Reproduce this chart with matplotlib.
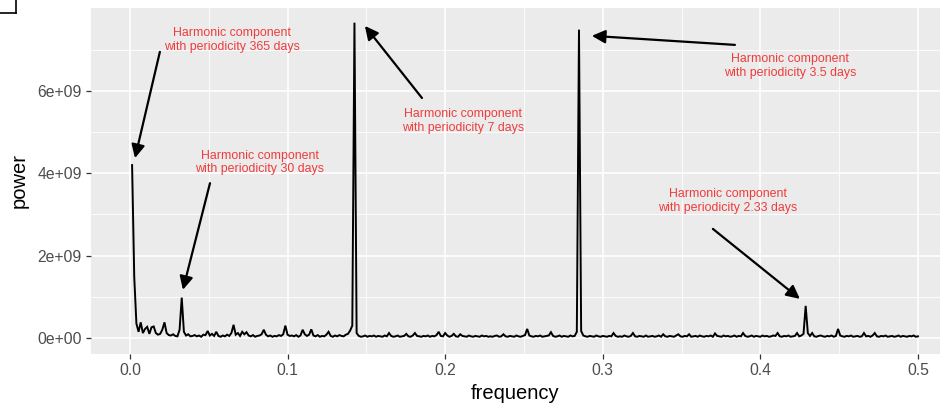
import numpy as np
import matplotlib
matplotlib.use("Agg")
import matplotlib.pyplot as plt
from matplotlib.lines import Line2D

plt.rcParams['font.family'] = ['Liberation Sans', 'DejaVu Sans']

# ---- data (power in units of 1e7) ----
N_DAYS = 730
power_1e7 = [
    420, 148, 35, 15, 38, 12, 22, 27, 10, 26, 28, 12, 8, 10, 20, 38, 12, 7, 6, 9,
    5, 4, 20, 98, 15, 6, 9, 4, 5, 7, 4, 6, 3, 8, 7, 17, 6, 10, 5, 15,
    5, 3, 6, 4, 8, 5, 12, 32, 8, 12, 5, 15, 9, 14, 6, 4, 7, 3, 5, 6,
    9, 20, 8, 4, 6, 3, 5, 4, 7, 5, 9, 30, 8, 5, 6, 4, 7, 3, 6, 20,
    9, 5, 8, 21, 6, 4, 7, 3, 5, 4, 8, 15, 5, 3, 6, 4, 7, 5, 4, 8,
    10, 18, 30, 766, 12, 5, 3, 4, 6, 3, 5, 4, 6, 3, 5, 4, 3, 6, 4, 12,
    5, 3, 4, 6, 3, 4, 5, 10, 4, 3, 6, 12, 5, 4, 3, 5, 4, 6, 3, 5,
    4, 7, 15, 5, 4, 12, 6, 3, 5, 10, 4, 3, 9, 5, 4, 3, 6, 4, 3, 5,
    4, 3, 6, 4, 5, 3, 4, 3, 5, 6, 3, 4, 9, 4, 3, 5, 4, 3, 6, 4,
    3, 5, 7, 22, 6, 4, 3, 5, 4, 6, 3, 4, 5, 6, 14, 5, 3, 4, 6, 3,
    5, 4, 3, 6, 4, 5, 15, 749, 17, 6, 4, 3, 5, 4, 3, 6, 4, 3, 5, 4,
    3, 5, 4, 12, 5, 3, 4, 3, 6, 4, 3, 5, 12, 4, 3, 5, 4, 3, 6, 3,
    4, 5, 3, 4, 6, 3, 9, 4, 3, 5, 4, 3, 6, 9, 4, 3, 5, 4, 9, 3,
    4, 5, 3, 6, 4, 3, 5, 4, 6, 3, 11, 5, 4, 3, 6, 4, 5, 3, 4, 6,
    3, 5, 4, 12, 5, 3, 4, 6, 3, 5, 4, 3, 6, 4, 5, 3, 4, 6, 5, 12,
    4, 3, 5, 4, 6, 3, 4, 5, 12, 4, 6, 10, 78, 12, 5, 12, 4, 3, 5, 6,
    4, 3, 5, 4, 6, 3, 5, 22, 6, 4, 3, 5, 4, 6, 3, 4, 5, 3, 4, 12,
    4, 5, 3, 6, 12, 4, 3, 5, 4, 6, 3, 4, 5, 3, 4, 6, 3, 5, 4, 3,
    5, 4, 6, 3, 4,
]
power = np.array(power_1e7, dtype=float) * 1e7
frequency = np.arange(1, len(power) + 1) / N_DAYS

x_ticks = [0.0, 0.1, 0.2, 0.3, 0.4, 0.5]
x_tick_labels = ["0.0", "0.1", "0.2", "0.3", "0.4", "0.5"]
y_ticks = [0, 2e9, 4e9, 6e9]
y_tick_labels = ["0e+00", "2e+09", "4e+09", "6e+09"]

annotations = [
    ("Harmonic component\nwith periodicity 365 days", (0.0647, 7.24e9), (0.0190, 6.95e9), (0.0032, 4.37e9)),
    ("Harmonic component\nwith periodicity 30 days", (0.0825, 4.27e9), (0.0508, 3.76e9), (0.0336, 1.17e9)),
    ("Harmonic component\nwith periodicity 7 days", (0.2113, 5.27e9), (0.1853, 5.83e9), (0.1491, 7.58e9)),
    ("Harmonic component\nwith periodicity 3.5 days", (0.4188, 6.61e9), (0.3839, 7.12e9), (0.2931, 7.34e9)),
    ("Harmonic component\nwith periodicity 2.33 days", (0.3794, 3.33e9), (0.3699, 2.65e9), (0.4251, 0.95e9)),
]

# ---- figure ----
fig = plt.figure(figsize=(9.52, 4.12), dpi=100)
ax = fig.add_axes([91 / 952, (412 - 354) / 412, (940 - 91) / 952, (354 - 8) / 412])
ax.set_facecolor("#EBEBEB")

ax.set_xlim(-0.0247, 0.514)
ax.set_ylim(-0.389e9, 8.016e9)

ax.set_xticks(x_ticks)
ax.set_xticklabels(x_tick_labels)
ax.set_yticks(y_ticks)
ax.set_yticklabels(y_tick_labels)
ax.set_xticks([0.05, 0.15, 0.25, 0.35, 0.45], minor=True)
ax.set_yticks([1e9, 3e9, 5e9, 7e9], minor=True)

ax.grid(which="major", color="white", linewidth=1.2)
ax.grid(which="minor", color="white", linewidth=0.6)
ax.set_axisbelow(True)
for s in ax.spines.values():
    s.set_visible(False)

ax.tick_params(which="major", length=3.5, width=0.9, color="#333333",
               labelsize=11.3, labelcolor="#4D4D4D", pad=3)
ax.tick_params(which="minor", length=0)

ax.plot(frequency, power, color="black", linewidth=1.4, solid_joinstyle="miter")

ax.set_xlabel("frequency", fontsize=14.5, color="black", labelpad=4)
ax.set_ylabel("power", fontsize=14.5, color="black", labelpad=6)

for text, tpos, astart, aend in annotations:
    ax.text(tpos[0], tpos[1], text, color="#F03C3C", fontsize=8.9,
            ha="center", va="center", linespacing=1.15)
    ax.annotate("", xy=aend, xytext=astart,
                arrowprops=dict(arrowstyle="-|>", color="black", lw=1.6,
                                mutation_scale=20, shrinkA=0, shrinkB=0))

# small corner mark at top-left
fig.add_artist(Line2D([0, 15.5 / 952], [1 - 12.5 / 412, 1 - 12.5 / 412],
                      transform=fig.transFigure, color="black", lw=1.2))
fig.add_artist(Line2D([15.5 / 952, 15.5 / 952], [1, 1 - 12.5 / 412],
                      transform=fig.transFigure, color="black", lw=1.2))

fig.savefig("out.png", dpi=100)
